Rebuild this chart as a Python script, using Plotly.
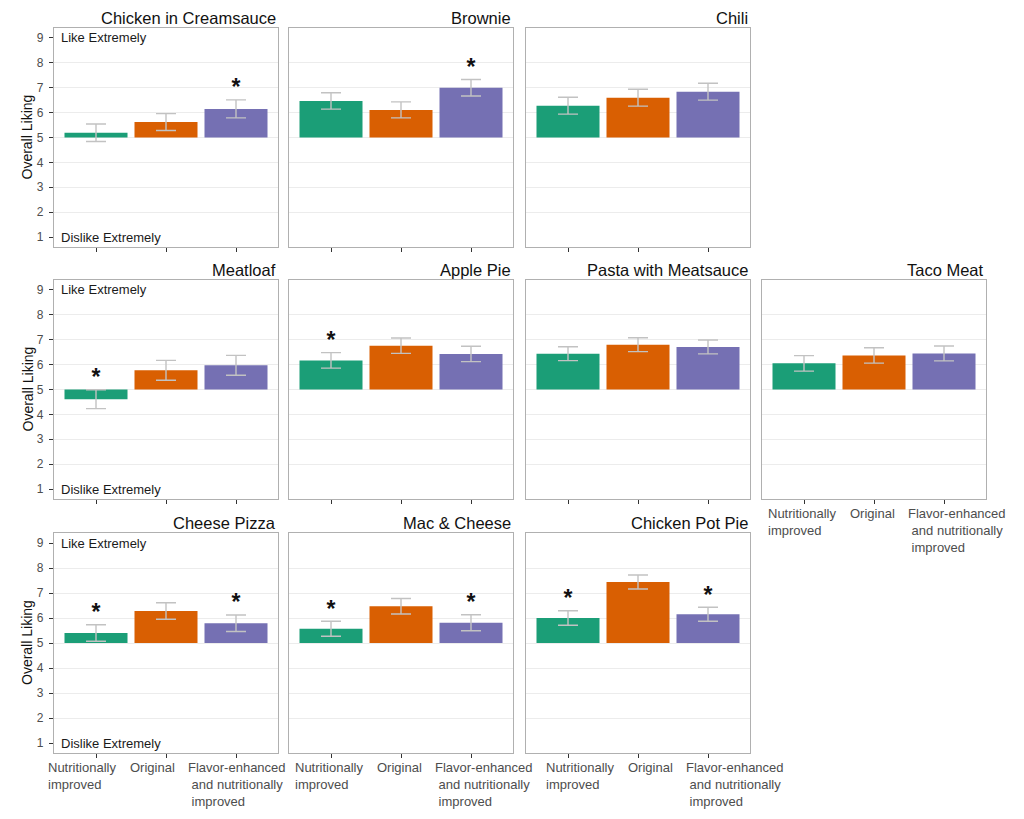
import plotly.graph_objects as go

# ---------------- data ----------------
foods = ["Chicken in Creamsauce", "Brownie", "Chili", "Meatloaf", "Apple Pie",
         "Pasta with Meatsauce", "Taco Meat", "Cheese Pizza", "Mac & Cheese",
         "Chicken Pot Pie"]
versions = ["Nutritionally improved", "Original",
            "Flavor-enhanced and nutritionally improved"]
version_labels = ["Nutritionally<br>improved", "Original",
                  "Flavor-enhanced<br>\u00a0and nutritionally<br>\u00a0improved"]

liking_nutri = [5.19, 6.47, 6.28, 4.61, 6.17, 6.44, 6.05, 5.40, 5.57, 6.00]
liking_orig = [5.62, 6.11, 6.60, 5.77, 6.76, 6.80, 6.37, 6.28, 6.47, 7.44]
liking_flavor = [6.15, 7.00, 6.84, 5.97, 6.43, 6.71, 6.45, 5.79, 5.81, 6.15]

se_nutri = [0.35, 0.33, 0.34, 0.38, 0.31, 0.28, 0.31, 0.33, 0.30, 0.29]
se_orig = [0.34, 0.32, 0.34, 0.40, 0.31, 0.28, 0.31, 0.33, 0.31, 0.28]
se_flavor = [0.36, 0.33, 0.34, 0.40, 0.31, 0.28, 0.30, 0.33, 0.32, 0.28]

sig_nutri = [False, False, False, True, True, False, False, True, True, True]
sig_orig = [False, False, False, False, False, False, False, False, False, False]
sig_flavor = [True, True, False, False, False, False, False, True, True, True]

scale_ticks = [1, 2, 3, 4, 5, 6, 7, 8, 9]
scale_mid = 5
scale_top_label = "Like Extremely"
scale_bottom_label = "Dislike Extremely"
y_title = "Overall Liking"

# ---------------- layout helpers ----------------
W, H = 1024, 819
col_px = [(54, 278), (289, 513), (526, 750), (762, 986)]
row_px = [(28, 247), (280, 499), (533, 753)]
grid = [(0, 0), (0, 1), (0, 2), (1, 0), (1, 1), (1, 2), (1, 3),
        (2, 0), (2, 1), (2, 2)]
colors = ["#1B9E77", "#D95F02", "#7570B3"]
label_shift = [-38, -26, -38]
col_offset = [-12, 0, 14, 0]
FONT = "Liberation Sans, Arial, Helvetica, sans-serif"

fig = go.Figure()
annotations = []
layout_axes = {}

for i, food in enumerate(foods):
    n = i + 1
    sfx = "" if n == 1 else str(n)
    r, c = grid[i]
    x0, x1 = col_px[c]
    y0, y1 = row_px[r]
    means = [liking_nutri[i], liking_orig[i], liking_flavor[i]]
    errs = [se_nutri[i], se_orig[i], se_flavor[i]]
    sigs = [sig_nutri[i], sig_orig[i], sig_flavor[i]]

    fig.add_trace(go.Bar(
        x=versions, y=[m - scale_mid for m in means], base=scale_mid, width=0.9,
        marker=dict(color=colors, line=dict(width=0)),
        xaxis="x" + sfx, yaxis="y" + sfx, showlegend=False, hoverinfo="skip"))
    fig.add_trace(go.Scatter(
        x=versions, y=means, mode="markers",
        marker=dict(size=1, opacity=0),
        error_y=dict(type="data", array=errs, color="#c2c2c2",
                     thickness=1.4, width=10),
        xaxis="x" + sfx, yaxis="y" + sfx, showlegend=False, hoverinfo="skip"))
    sx = [v for v, s in zip(versions, sigs) if s]
    sy = [m + e + 0.42 for m, e, s in zip(means, errs, sigs) if s]
    if sx:
        fig.add_trace(go.Scatter(
            x=sx, y=sy, mode="text", text=["<b>*</b>"] * len(sx),
            textposition="middle center",
            textfont=dict(size=23, color="#111111", family=FONT),
            xaxis="x" + sfx, yaxis="y" + sfx, showlegend=False, hoverinfo="skip"))

    layout_axes["xaxis" + sfx] = dict(
        domain=[x0 / W, x1 / W], anchor="y" + sfx, type="category",
        categoryorder="array", categoryarray=versions,
        range=[-0.6, 2.6], showticklabels=False,
        ticks="outside", ticklen=4, tickwidth=1, tickcolor="#333333",
        showline=True, mirror=True, linecolor="#b0b0b0", linewidth=1.3,
        showgrid=False, zeroline=False, fixedrange=True)
    layout_axes["yaxis" + sfx] = dict(
        domain=[1 - y1 / H, 1 - y0 / H], anchor="x" + sfx,
        range=[0.6, 9.4], tickmode="array", tickvals=scale_ticks,
        showticklabels=(c == 0), ticks="outside" if c == 0 else "",
        ticklen=4, tickwidth=1, tickcolor="#333333", ticklabelstandoff=3,
        tickfont=dict(size=12, color="#4d4d4d", family=FONT),
        showgrid=False,
        minor=dict(tickmode="array", tickvals=scale_ticks[1:-1], showgrid=True,
                   gridcolor="#ececec", gridwidth=1, ticks=""),
        showline=True, mirror=True, linecolor="#b0b0b0", linewidth=1.3,
        zeroline=False, fixedrange=True)

    # panel title
    annotations.append(dict(
        text=food, x=1, y=1, xref="x" + sfx + " domain", yref="y" + sfx + " domain",
        xanchor="right", yanchor="bottom", showarrow=False, yshift=-1,
        font=dict(size=16.5, color="#111111", family=FONT)))

    if c == 0:
        annotations.append(dict(
            text=scale_top_label, x=0, y=scale_ticks[-1], xref="x" + sfx + " domain",
            yref="y" + sfx, xanchor="left", yanchor="middle", xshift=5,
            showarrow=False, font=dict(size=13, color="#1a1a1a", family=FONT)))
        annotations.append(dict(
            text=scale_bottom_label, x=0, y=scale_ticks[0], xref="x" + sfx + " domain",
            yref="y" + sfx, xanchor="left", yanchor="middle", xshift=5,
            showarrow=False, font=dict(size=13, color="#1a1a1a", family=FONT)))
        annotations.append(dict(
            text=y_title, x=27 / W, y=1 - (y0 + y1) / 2 / H, xref="paper", yref="paper",
            xanchor="center", yanchor="middle", textangle=-90, showarrow=False,
            font=dict(size=14, color="#111111", family=FONT)))

    if r == 2 or (r == 1 and c == 3):
        for j, lab in enumerate(version_labels):
            annotations.append(dict(
                text=lab, x=versions[j], y=0, xref="x" + sfx,
                yref="y" + sfx + " domain", xanchor="left", yanchor="top",
                xshift=label_shift[j] + col_offset[c], yshift=-5, align="left",
                showarrow=False, font=dict(size=13, color="#4d4d4d", family=FONT)))

fig.update_layout(
    width=W, height=H, autosize=False,
    margin=dict(l=0, r=0, t=0, b=0),
    paper_bgcolor="white", plot_bgcolor="white",
    font=dict(family=FONT),
    showlegend=False, annotations=annotations, **layout_axes)

fig.write_html("out.html", config={"displayModeBar": False},
               post_script="document.body.style.margin='0';")
